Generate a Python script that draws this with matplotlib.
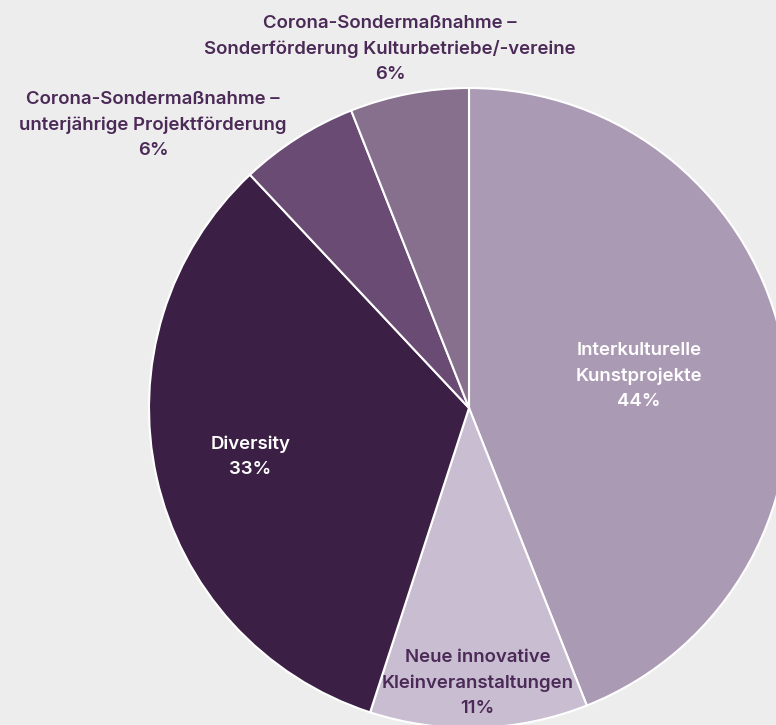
import numpy as np
import matplotlib
matplotlib.use("Agg")
import matplotlib.pyplot as plt

# Funding shares by programme (percent)
categories = [
    "Interkulturelle\nKunstprojekte",
    "Neue innovative\nKleinveranstaltungen",
    "Diversity",
    "Corona-Sondermaßnahme –\nunterjährige Projektförderung",
    "Corona-Sondermaßnahme –\nSonderförderung Kulturbetriebe/-vereine",
]
shares = [44, 11, 33, 6, 6]
pct_labels = ["44%", "11%", "33%", "6%", "6%"]

colors = ["#AB9AB4", "#C9BDD1", "#3C1F45", "#6A4B73", "#87708E"]
text_colors = ["white", "#4B2A57", "white", "#4B2A57", "#4B2A57"]

plt.rcParams["font.family"] = ["Inter", "DejaVu Sans"]

W, H, DPI = 776, 725, 100
fig = plt.figure(figsize=(W / DPI, H / DPI), dpi=DPI, facecolor="#EDEDED")
ax = fig.add_axes([0, 0, 1, 1])
ax.set_facecolor("#EDEDED")

# pie centre and radius in pixels -> data limits so the pie sits off-centre
cx, cy, r = 469, 408, 320

wedges, _ = ax.pie(
    shares, colors=colors, startangle=90, counterclock=False, radius=1,
    center=(0, 0), frame=True,
    wedgeprops=dict(edgecolor="white", linewidth=1.5),
)
ax.set_xlim(-cx / r, (W - cx) / r)
ax.set_ylim((cy - H) / r, cy / r)
ax.axis("off")

FS = 13.4
LS = 1.62

# labels inside slices, placed along each slice's mid-angle
inner_radius = {0: 0.54, 1: 0.86, 2: 0.70}
for i, rr in inner_radius.items():
    w = wedges[i]
    mid = np.deg2rad((w.theta1 + w.theta2) / 2)
    ax.text(rr * np.cos(mid), rr * np.sin(mid),
            f"{categories[i]}\n{pct_labels[i]}",
            ha="center", va="center", fontsize=FS, fontweight="semibold",
            color=text_colors[i], linespacing=LS)

# labels outside the pie for the small slices (axes fractions)
outer_pos = {3: (153 / W, 1 - 125 / H), 4: (390 / W, 1 - 49 / H)}
for i, (fx, fy) in outer_pos.items():
    ax.text(fx, fy, f"{categories[i]}\n{pct_labels[i]}", transform=ax.transAxes,
            ha="center", va="center", fontsize=FS, fontweight="semibold",
            color=text_colors[i], linespacing=LS)

fig.savefig("out.png", dpi=DPI, facecolor=fig.get_facecolor())
